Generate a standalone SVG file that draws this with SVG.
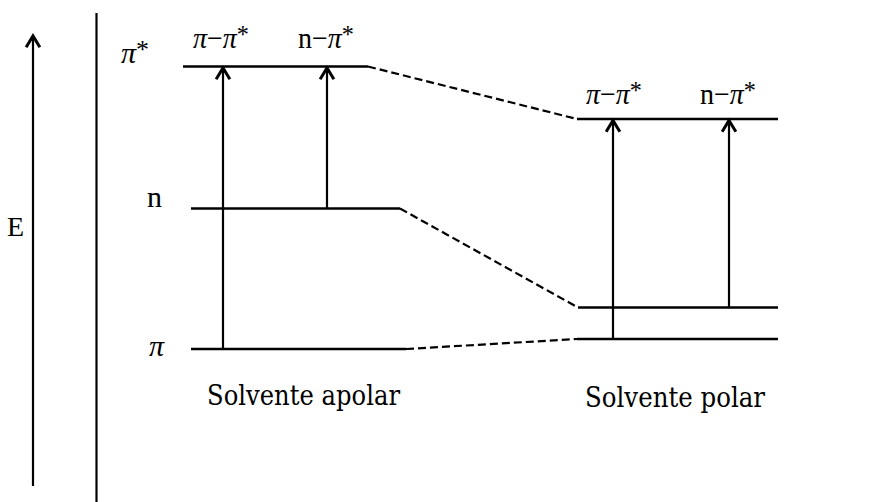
<svg xmlns="http://www.w3.org/2000/svg" width="883" height="502" viewBox="0 0 883 502">
  <style>
    .lvl { stroke: #000; stroke-width: 2.5; fill: none; }
    .dash { stroke: #000; stroke-width: 2.2; fill: none; stroke-dasharray: 8 4; }
    .arr { stroke: #000; stroke-width: 2.2; fill: none; marker-end: url(#ah); }
    .ax { stroke: #000; stroke-width: 2.2; fill: none; }
    .t { font-family: "Liberation Serif", "Times New Roman", serif; fill: #000; }
    .sym { font-size: 30px; }
    .pi { font-style: italic; }
    .sup { font-size: 26px; }
    .sol { font-family: "DejaVu Serif", "Liberation Serif", serif; font-size: 27px; fill: #000; }
  </style>
  <defs>
    <marker id="ah" markerUnits="userSpaceOnUse" markerWidth="20" markerHeight="20" refX="0" refY="0" viewBox="-12 -8 14 16" orient="auto" overflow="visible">
      <path d="M-9,-5.5 L0,0 L-9,5.5" fill="none" stroke="#000" stroke-width="2.4"/>
    </marker>
  </defs>

  <g id="axis">
    <line class="ax" x1="33" y1="486" x2="33" y2="36" marker-end="url(#ah)"/>
    <line class="ax" x1="96.5" y1="13" x2="96.5" y2="502"/>
    <text class="t" x="7" y="236" font-size="28">E</text>
  </g>

  <g id="labels-levels">
    <text class="t sym" x="121" y="63"><tspan class="pi">π</tspan><tspan class="sup" dy="-5">*</tspan></text>
    <text class="t sym" x="147" y="207">n</text>
    <text class="t sym pi" x="149" y="356">π</text>
  </g>

  <g id="apolar">
    <line class="lvl" x1="183" y1="66.5" x2="368" y2="66.5"/>
    <line class="lvl" x1="191" y1="208.5" x2="400" y2="208.5"/>
    <line class="lvl" x1="191" y1="349" x2="406" y2="349"/>
    <text class="t sym" x="193" y="48" textLength="56" lengthAdjust="spacingAndGlyphs"><tspan class="pi">π</tspan>−<tspan class="pi">π</tspan><tspan class="sup" dy="-5">*</tspan></text>
    <text class="t sym" x="298" y="48" textLength="56" lengthAdjust="spacingAndGlyphs">n−<tspan class="pi">π</tspan><tspan class="sup" dy="-5">*</tspan></text>
    <text class="sol" x="207" y="405" textLength="193" lengthAdjust="spacingAndGlyphs">Solvente apolar</text>
  </g>

  <g id="polar">
    <line class="lvl" x1="577" y1="119" x2="778" y2="119"/>
    <line class="lvl" x1="578" y1="307.5" x2="778" y2="307.5"/>
    <line class="lvl" x1="577" y1="339" x2="778" y2="339"/>
    <text class="t sym" x="586" y="104" textLength="56" lengthAdjust="spacingAndGlyphs"><tspan class="pi">π</tspan>−<tspan class="pi">π</tspan><tspan class="sup" dy="-5">*</tspan></text>
    <text class="t sym" x="700" y="104" textLength="56" lengthAdjust="spacingAndGlyphs">n−<tspan class="pi">π</tspan><tspan class="sup" dy="-5">*</tspan></text>
    <text class="sol" x="585" y="407" textLength="180" lengthAdjust="spacingAndGlyphs">Solvente polar</text>
  </g>

  <g id="connectors">
    <line class="dash" x1="368" y1="66.5" x2="577" y2="119"/>
    <line class="dash" x1="400" y1="208.5" x2="578" y2="307.5"/>
    <line class="dash" x1="406" y1="349" x2="577" y2="339"/>
    <line class="arr" x1="223" y1="349" x2="223" y2="68"/>
    <line class="arr" x1="327" y1="208.5" x2="327" y2="68"/>
    <line class="arr" x1="613" y1="339" x2="613" y2="120.5"/>
    <line class="arr" x1="729" y1="307.5" x2="729" y2="120.5"/>
  </g>
</svg>
